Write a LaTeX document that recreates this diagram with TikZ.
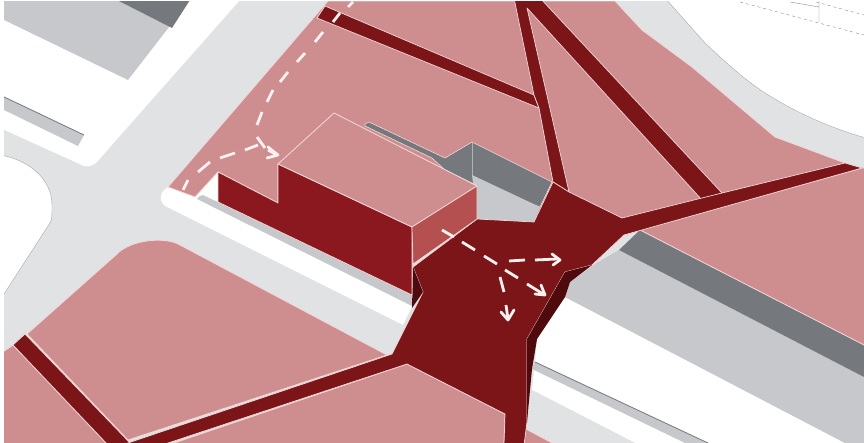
\documentclass[tikz,border=0pt]{standalone}
\definecolor{roadgrey}{HTML}{E0E2E3}
\definecolor{midgrey}{HTML}{C6C8CB}
\definecolor{darkgrey}{HTML}{75787C}
\definecolor{blockpink}{HTML}{CE8E90}
\definecolor{edgepink}{HTML}{F3D9D9}
\definecolor{pathred}{HTML}{7B1518}
\definecolor{wallred}{HTML}{8B181E}
\definecolor{sidered}{HTML}{B4504F}
\definecolor{deepred}{HTML}{4E0A0C}
\definecolor{walkwhite}{HTML}{FAF0F0}
\tikzset{
  sitewhite/.style={fill=white},
  kerb/.style={draw=gray!70,line width=.4pt},
  lotgrey/.style={fill=midgrey},
  lotdark/.style={fill=darkgrey},
  lawn/.style={fill=blockpink,draw=edgepink,line width=.8pt,line join=round},
  redpath/.style={fill=pathred,draw=edgepink,line width=.7pt,line join=round},
  wall/.style={fill=wallred,draw=edgepink,line width=.7pt,line join=round},
  sidewall/.style={fill=sidered,draw=edgepink,line width=.7pt,line join=round},
  walk/.style={draw=walkwhite,line width=2.8pt},
  walkhead/.style={draw=walkwhite,line width=2.8pt,line cap=round,line join=round},
  plan/.style={draw=gray,line width=.35pt,dashed}
}
\begin{document}
\begin{tikzpicture}[x=1pt,y=-1pt]
\useasboundingbox (0,0) rectangle (864,443);
% ground
\fill[roadgrey] (0,0) rectangle (864,443);
% white blocks
\path[sitewhite] (240,0) -- (103,155) .. controls (97,163) and (92,168) .. (84,166) -- (0,128) -- (0,0) -- cycle;
\path[lotgrey] (0,0) -- (190,0) -- (128,80) -- (0,18) -- cycle;
\path[lotdark] (117,0) -- (190,0) -- (172,28) -- cycle;
\path[lotgrey] (0,95) -- (84,135) -- (78,146) -- (0,108) -- cycle;
\draw[darkgrey,line width=.8pt] (0,95) -- (84,135);
\path[sitewhite,kerb] (0,155) .. controls (30,160) and (52,180) .. (52,205) .. controls (52,215) and (52,220) .. (50,223) -- (4,294) -- (0,294) -- cycle;
\path[sitewhite,kerb] (665,-2) -- (705,43) .. controls (725,62) and (745,80) .. (765,93) .. controls (795,112) and (830,128) .. (866,138) -- (866,-2) -- cycle;
\draw[plan] (740,2) -- (864,35);
\draw[plan] (816,2) -- (864,15);
\draw[gray,line width=.35pt] (790,2) -- (819,7) (819,0) -- (819,22);
% long white band below the building
\path[sitewhite] (168,187) .. controls (160,192) and (158,200) .. (165,206) -- (403,325) -- (416,298) -- (218,172) -- cycle;
\path[lotgrey] (197,199) -- (218,172) -- (218,202) -- (412,295) -- (412,306) -- cycle;
\path[sitewhite] (197,197) -- (218,172) -- (218,202) -- (203,195) -- cycle;
% main northern lawn
\path[lawn] (168,187) -- (328,1) -- (615,1) -- (642,30) -- (692,67) -- (775,137) -- (845,163) -- (862,168) -- (624,235) -- (553,240) -- (478,183) -- (278,164) -- (278,203) -- (218,172) -- (195,197) -- cycle;
% courtyard behind the building
\path[lotdark,draw=edgepink,line width=.6pt] (365,124) -- (369,122) -- (445,158) -- (472,142) -- (552,182) -- (540,207) -- (478,186) -- (445,170) -- (432,158) -- (365,126) -- cycle;
\path[lotgrey] (472,175) -- (540,207) -- (534,222) -- (478,222) -- cycle;
\draw[gray!60!white,line width=.6pt] (472,143) -- (472,175);
% eastern strips
\path[sitewhite] (565,297) -- (845,443) -- (635,443) -- (532,390) -- (535,362) -- (537,339) -- cycle;
\path[lotgrey] (619,250) -- (864,377) -- (864,443) -- (845,443) -- (565,297) -- (570,282) -- (595,264) -- cycle;
\path[lotgrey] (535,362) -- (708,443) -- (685,443) -- (532,369) -- cycle;
\draw[darkgrey,line width=.8pt] (535,362) -- (708,443);
\path[lotdark] (640,230) -- (864,345) -- (864,377) -- (619,250) -- cycle;
\path[lawn] (640,230) -- (862,168) -- (866,168) -- (866,346) -- cycle;
% lawn pieces in the south
\path[lawn] (27,334) -- (117,254) .. controls (130,240) and (165,236) .. (180,245) -- (387,355) -- (128,440) -- cycle;
\path[lawn] (0,354) -- (13,345) -- (108,445) -- (0,445) -- cycle;
\path[lawn] (168,445) -- (407,364) -- (505,414) -- (504,445) -- cycle;
\path[lawn] (524,428) -- (556,445) -- (524,445) -- cycle;
\path[fill=roadgrey] (527,422) -- (532,390) -- (635,443) -- (556,443) -- cycle;
% red paths
\path[redpath] (13,345) -- (25,334) -- (132,445) -- (108,445) -- cycle;
\path[redpath] (325,6) -- (534,95) -- (539,108) -- (317,18) -- cycle;
\path[redpath] (514,-2) -- (534,95) -- (539,108) -- (553,182) -- (569,192) -- (527,8) -- (702,200) -- (722,193) -- (540,-2) -- cycle;
% plaza with its arms
\path[redpath] (477,219) -- (534,222) -- (553,182) -- (569,192) -- (622,218) -- (722,193) -- (845,163) -- (862,168) -- (624,235) -- (592,265) -- (565,272) -- (527,339) -- (527,422) -- (524,445) -- (504,445) -- (505,414) -- (407,364) -- (162,445) -- (122,445) -- (392,354) -- (403,332) -- (423,292) -- (413,267) -- cycle;
\path[fill=deepred] (565,272) -- (592,265) -- (570,282) -- (565,297) -- (537,339) -- (532,369) -- (527,422) -- (527,339) -- cycle;
\path[fill=deepred] (413,267) -- (423,292) -- (412,308) -- cycle;
% building
\path[wall] (218,172) -- (278,203) -- (278,164) -- (412,227) -- (412,295) -- (218,202) -- cycle;
\path[lawn] (278,164) -- (334,113) -- (477,186) -- (412,227) -- cycle;
\path[sidewall] (412,227) -- (477,186) -- (477,219) -- (413,264) -- cycle;
% walking routes
\draw[walk] (353,2) -- (348,7) (340,13) -- (333,22) (323,32) -- (315,42) (305,53) -- (297,62) (288,72) -- (280,82) (273,90) -- (267,102) (262,112) -- (257,125) (257,137) -- (265,148) (268,150) -- (277,155);
\draw[walk] (183,190) -- (188,180) (198,172) -- (210,162) (220,158) -- (235,153) (245,150) -- (258,145);
\draw[walkhead] (268,147) -- (278,155) -- (267,158);
\draw[walk] (442,230) -- (454,237) (462,242) -- (475,250) (484,256) -- (497,264);
\draw[walk] (509,261) -- (525,260) (535,260) -- (557,259);
\draw[walkhead] (552,254) -- (560,260) -- (553,265);
\draw[walk] (505,270) -- (518,278) (527,284) -- (543,294);
\draw[walkhead] (535,294) -- (545,295) -- (541,285);
\draw[walk] (500,277) -- (504,292) (506,305) -- (508,319);
\draw[walkhead] (501,312) -- (508,320) -- (514,310);
% page margin
\fill[white] (0,0) rectangle (4,443);
\fill[white] (0,0) rectangle (864,1);
\end{tikzpicture}
\end{document}
